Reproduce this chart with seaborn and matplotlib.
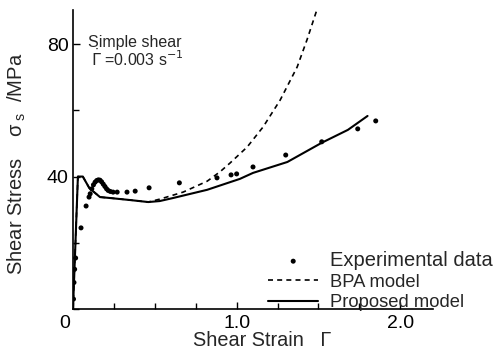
import matplotlib
matplotlib.use("Agg")
import matplotlib.pyplot as plt
import matplotlib.transforms as mtransforms
import seaborn as sns
import pandas as pd
from matplotlib.ticker import MultipleLocator, FixedLocator

# ---- data ----
exp_x = [0.003, 0.006, 0.010, 0.016, 0.049, 0.080, 0.098,
         0.105, 0.115, 0.125, 0.135, 0.145, 0.155, 0.165, 0.175, 0.185,
         0.195, 0.205, 0.215, 0.228, 0.245,
         0.27, 0.33, 0.38, 0.465, 0.65, 0.88, 0.966, 1.00,
         1.10, 1.30, 1.52, 1.74, 1.85]
exp_y = [3.0, 8.0, 12.0, 15.4, 24.5, 31.1, 33.8,
         34.8, 36.3, 37.5, 38.3, 38.8, 39.0, 38.9, 38.4, 37.7,
         37.0, 36.3, 35.8, 35.5, 35.3,
         35.3, 35.3, 35.6, 36.6, 38.1, 39.6, 40.5, 40.8,
         42.9, 46.5, 50.5, 54.4, 56.8]

bpa_x = [0.0, 0.030, 0.060, 0.10, 0.165, 0.23, 0.35, 0.46, 0.532, 0.673,
         0.82, 0.90, 0.96, 1.064, 1.162, 1.266, 1.37, 1.43, 1.49]
bpa_y = [0.0, 40.0, 40.0, 36.5, 33.8, 33.5, 32.9, 32.3, 33.2, 35.3,
         38.6, 41.5, 44.1, 48.9, 55.0, 63.1, 73.1, 81.3, 90.3]

prop_x = [0.0, 0.030, 0.060, 0.10, 0.165, 0.23, 0.35, 0.46, 0.53, 0.61,
          0.82, 1.02, 1.10, 1.31, 1.52, 1.68, 1.80]
prop_y = [0.0, 40.0, 40.0, 36.5, 33.8, 33.5, 32.9, 32.3, 32.6, 33.5,
          36.0, 39.3, 41.1, 44.4, 50.2, 54.1, 58.3]

x_major = [0.0, 1.0, 2.0]
x_labels = ["0", "1.0", "2.0"]
y_major = [40, 80]
y_labels = ["40", "80"]

sns.set_theme(style="white")
plt.rcParams["font.family"] = ["Liberation Sans", "DejaVu Sans"]
plt.rcParams["mathtext.fontset"] = "custom"
plt.rcParams["mathtext.rm"] = "Liberation Sans"
plt.rcParams["mathtext.it"] = "Liberation Sans"

fig = plt.figure(figsize=(4.98, 3.59), dpi=100)
ax = fig.add_axes([73 / 498, 50 / 359, 360 / 498, 299 / 359])

df_exp = pd.DataFrame({"x": exp_x, "y": exp_y})
df_bpa = pd.DataFrame({"x": bpa_x, "y": bpa_y})
df_prop = pd.DataFrame({"x": prop_x, "y": prop_y})

sns.lineplot(data=df_bpa, x="x", y="y", ax=ax, color="black", lw=1.2,
             linestyle=(0, (3, 2.5)), sort=False, estimator=None,
             label="BPA model")
sns.lineplot(data=df_prop, x="x", y="y", ax=ax, color="black", lw=1.5,
             sort=False, estimator=None, label="Proposed model")
sns.scatterplot(data=df_exp, x="x", y="y", ax=ax, color="black", s=13,
                edgecolor="none", label="Experimental data", zorder=5)

ax.set_xlim(0, 2.2)
ax.set_ylim(0, 90.3)
ax.xaxis.set_major_locator(FixedLocator(x_major))
ax.set_xticklabels(x_labels)
ax.xaxis.set_minor_locator(MultipleLocator(0.25))
ax.yaxis.set_major_locator(FixedLocator(y_major))
ax.set_yticklabels(y_labels)
ax.yaxis.set_minor_locator(MultipleLocator(20))
ax.tick_params(which="both", direction="in", colors="black", labelsize=14,
               bottom=True, left=True)
ax.tick_params(which="major", length=5, width=1)
ax.tick_params(which="minor", length=4, width=1)
ax.tick_params(axis="x", pad=4)
ax.tick_params(axis="y", pad=3)

# shift the "0" label slightly left, as in the reference
zero_lab = ax.get_xticklabels()[0]
zero_lab.set_transform(zero_lab.get_transform() +
                       mtransforms.ScaledTranslation(-8 / 100, 0, fig.dpi_scale_trans))

for s in ["top", "right"]:
    ax.spines[s].set_visible(False)
for s in ["left", "bottom"]:
    ax.spines[s].set_color("black")
    ax.spines[s].set_linewidth(1.2)

ax.set_xlabel("Shear Strain   \u0393", fontsize=14.3)
ax.xaxis.set_label_coords((262 - 73) / 360, -0.075)
ax.set_ylabel("Shear Stress    \u03c3$_{\\;\\mathregular{s}}$  /MPa", fontsize=14.5)
ax.yaxis.set_label_coords(-0.125, 0.485)

ax.text(88 / 498, 1 - 42 / 359, "Simple shear", transform=fig.transFigure,
        fontsize=11.5, va="center", ha="left")
ax.text(91 / 498, 1 - 66 / 359, "$\\dot{\\Gamma}$ =0.003 s$^{-1}$",
        transform=fig.transFigure, fontsize=11.5, va="baseline", ha="left",
        math_fontfamily="dejavusans")

handles, labels = ax.get_legend_handles_labels()
order = [labels.index("Experimental data"), labels.index("BPA model"),
         labels.index("Proposed model")]
leg = ax.legend([handles[i] for i in order], [labels[i] for i in order],
                loc="upper left", bbox_to_anchor=(268 / 498, (359 - 251) / 359),
                bbox_transform=fig.transFigure, frameon=False, fontsize=13.2,
                handlelength=2.75, handletextpad=0.65, labelspacing=0.2,
                borderpad=0, borderaxespad=0)
leg.get_texts()[0].set_fontsize(14.5)

fig.savefig("out.png", dpi=100)
